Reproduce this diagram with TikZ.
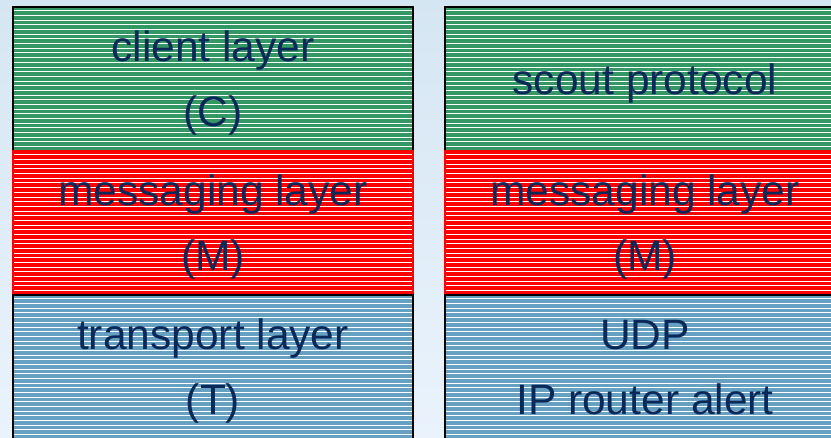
\documentclass[tikz,border=0pt]{standalone}
\usepackage{fontspec}
\setmainfont{Liberation Sans}
\definecolor{bgtop}{RGB}{213,230,243}
\definecolor{bgbot}{RGB}{234,243,252}
\definecolor{layergreen}{RGB}{52,152,101}
\definecolor{layerred}{RGB}{255,0,0}
\definecolor{layerblue}{RGB}{103,161,193}
\definecolor{labelnavy}{RGB}{10,40,90}
\tikzset{
  layer/.style={draw=black, line width=2pt, minimum width=400pt,
    minimum height=144pt, inner sep=0pt, outer sep=0pt, anchor=north west,
    text=labelnavy, font=\fontsize{42.5}{65}\selectfont, align=center,
    text depth=0pt,
    path picture={
      \foreach \k in {0,...,30}{
        \draw[white, line width=1pt]
          ([yshift=-4pt-\k*4.667pt]path picture bounding box.north west) --
          ([yshift=-4pt-\k*4.667pt]path picture bounding box.north east);
      }
    }},
  greenlayer/.style={layer, fill=layergreen},
  redlayer/.style={layer, fill=layerred, draw=layerred},
  bluelayer/.style={layer, fill=layerblue},
}
\begin{document}
\begin{tikzpicture}[x=1pt, y=-1pt]
  \clip (0,0) rectangle (831,438);
  \shade[top color=bgtop, bottom color=bgbot] (0,0) rectangle (831,438);

  % left stack: client / messaging / transport
  \node[greenlayer] (client) at (13,7) {client layer\\(C)};
  \node[redlayer] (msgL) at (13,151) {messaging layer\\(M)};
  \node[bluelayer] (transport) at (13,295) {transport layer\\(T)};

  % right stack: scout / messaging / UDP
  \node[greenlayer] (scout) at (445,7) {scout protocol};
  \node[redlayer] (msgR) at (445,151) {messaging layer\\(M)};
  \node[bluelayer] (udp) at (445,295) {UDP\\IP router alert};
\end{tikzpicture}
\end{document}
